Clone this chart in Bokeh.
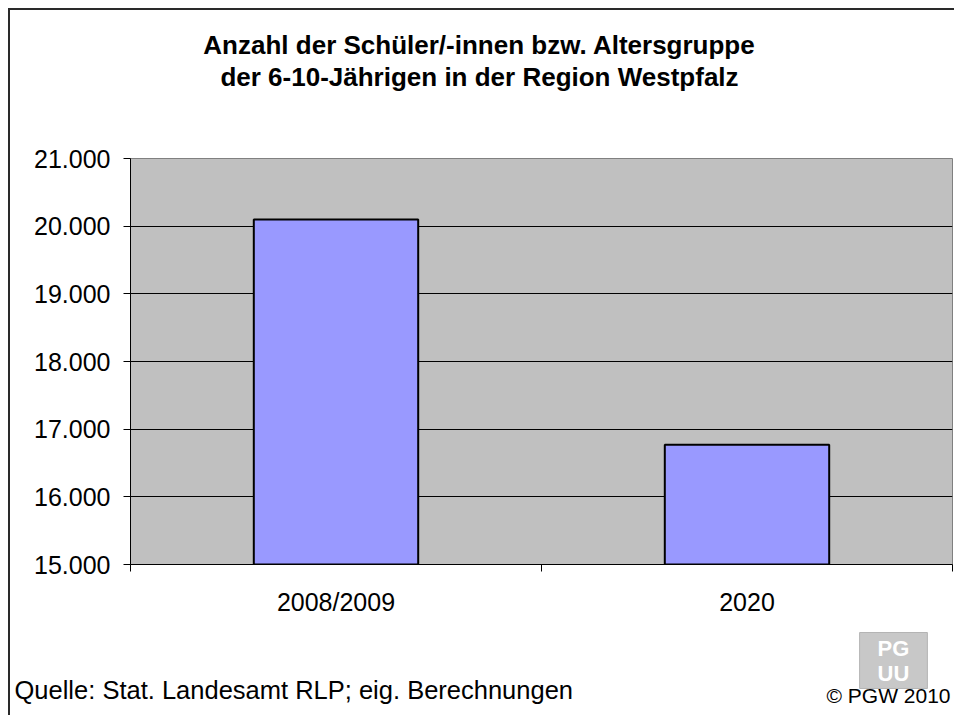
from bokeh.plotting import figure
from bokeh.models import Range1d, FixedTicker, Label
from bokeh.embed import file_html
from bokeh.resources import INLINE

# ---- data ----
categories = ["2008/2009", "2020"]
schueler = [20100, 16770]
y_ticks = [15000, 16000, 17000, 18000, 19000, 20000, 21000]
title_lines = ["Anzahl der Schüler/-innen bzw. Altersgruppe",
               "der 6-10-Jährigen in der Region Westpfalz"]
source_text = "Quelle: Stat. Landesamt RLP; eig. Berechnungen"
copyright_text = "© PGW 2010"
logo_text = "PG\nUU"

FONT = "Liberation Sans"

p = figure(width=946, height=707, output_backend="svg", toolbar_location=None,
           x_range=Range1d(0, len(categories)), y_range=Range1d(y_ticks[0], y_ticks[-1]),
           min_border_left=120, min_border_right=4, min_border_top=148, min_border_bottom=153)
p.styles = {"margin-left": "8px", "margin-top": "8px",
            "border-left": "2px solid #2a2a2a", "border-top": "2px solid #2a2a2a"}
p.background_fill_color = "#c0c0c0"
p.border_fill_color = "white"
p.outline_line_color = "#808080"
p.outline_line_width = 1

xs = [i + 0.5 for i in range(len(categories))]
p.vbar(x=xs, top=schueler, bottom=y_ticks[0], width=0.4,
       fill_color="#9999ff", line_color="black", line_width=2)

# grid
p.xgrid.grid_line_color = None
p.ygrid.ticker = FixedTicker(ticks=y_ticks)
p.ygrid.grid_line_color = "black"
p.ygrid.grid_line_width = 1

# y axis
ya = p.yaxis[0]
ya.ticker = FixedTicker(ticks=y_ticks)
ya.major_label_overrides = {t: f"{t:,}".replace(",", ".") for t in y_ticks}
ya.major_label_text_font = FONT
ya.major_label_text_font_size = "25px"
ya.major_label_text_color = "black"
ya.axis_line_color = "black"
ya.major_tick_line_color = "black"
ya.major_tick_out = 7
ya.major_tick_in = 0
ya.minor_tick_line_color = None
ya.major_label_standoff = 13

# x axis: labels at bar centres, ticks at category boundaries
xa = p.xaxis[0]
xa.ticker = FixedTicker(ticks=xs, minor_ticks=list(range(len(categories) + 1)))
xa.major_label_overrides = {x: c for x, c in zip(xs, categories)}
xa.major_label_text_font = FONT
xa.major_label_text_font_size = "25px"
xa.major_label_text_color = "black"
xa.axis_line_color = "black"
xa.major_tick_line_color = None
xa.major_tick_out = 0
xa.major_tick_in = 0
xa.minor_tick_line_color = "black"
xa.minor_tick_out = 7
xa.minor_tick_in = 0
xa.major_label_standoff = 16

CU = dict(x_units="canvas", y_units="canvas")

# title lines
for txt, yy in zip(title_lines, [32, 64]):
    p.add_layout(Label(x=467, y=yy, text=txt, text_font=FONT, text_font_size="26px",
                       text_font_style="bold", text_align="center",
                       text_baseline="alphabetic", text_color="black", **CU), "above")

# footer texts (absolute canvas positions)
p.add_layout(Label(x=2, y=677, text=source_text, text_font=FONT, text_font_size="25.5px",
                   text_align="left", text_baseline="alphabetic", text_color="black", **CU), "above")
p.add_layout(Label(x=938, y=683, text=copyright_text, text_font=FONT, text_font_size="21px",
                   text_align="right", text_baseline="alphabetic", text_color="black", **CU), "above")

# logo (grey tile with white letters)
p.add_layout(Label(x=881, y=648, text=logo_text, text_font=FONT, text_font_size="22px",
                   text_font_style="bold", text_align="center", text_baseline="middle",
                   text_line_height=1.0, text_color="white",
                   background_fill_color="#c8c8c8", border_line_color="#b4b4b4",
                   padding=(18, 3), **CU), "below")

open("out.html", "w").write(file_html(p, INLINE))
